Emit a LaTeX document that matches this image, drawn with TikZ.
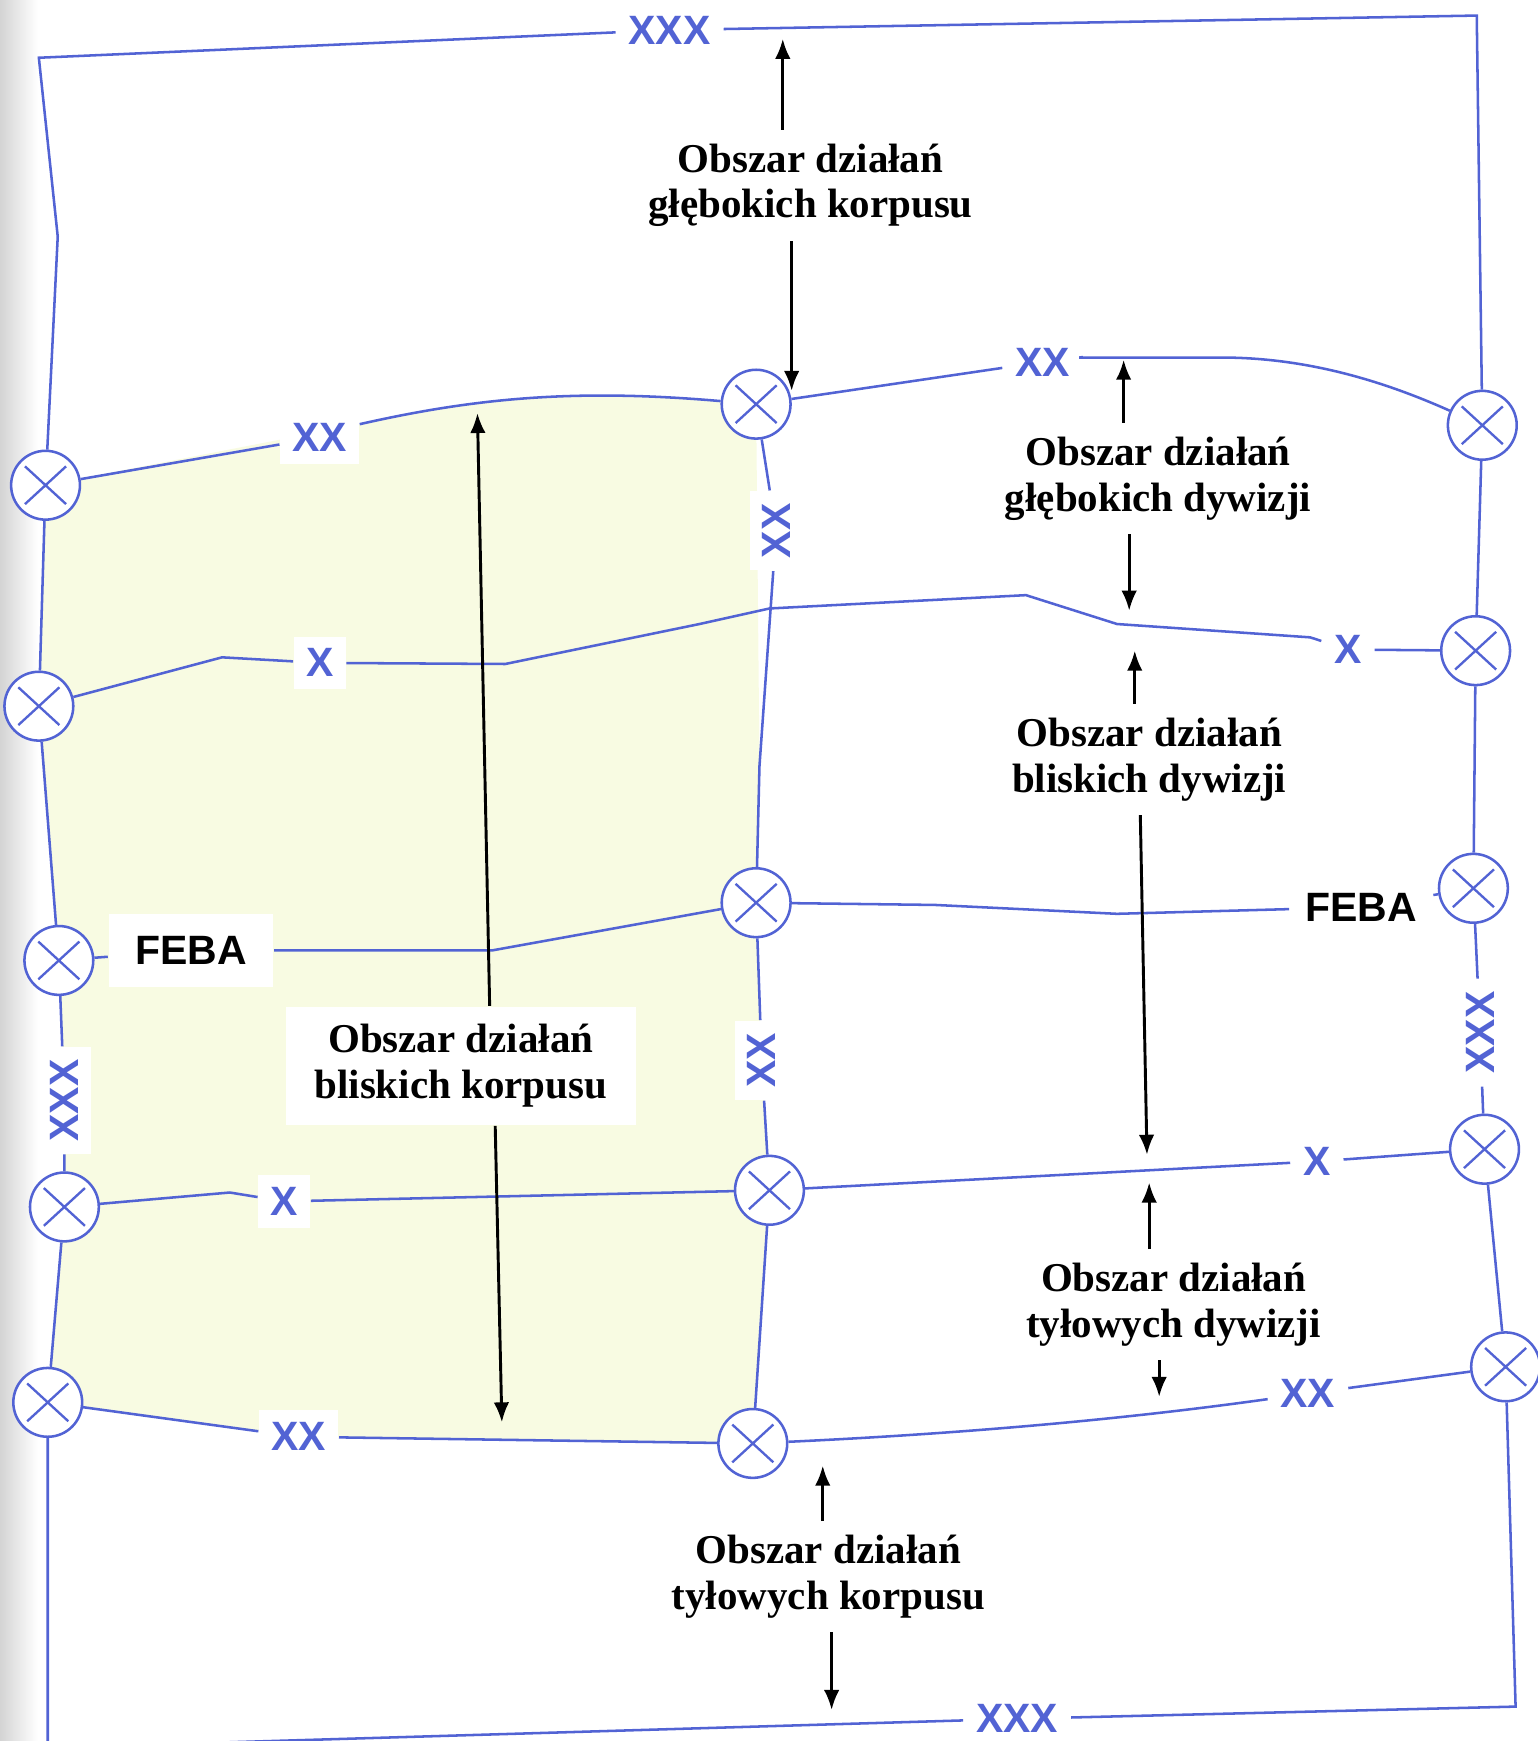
\documentclass[tikz,border=0pt]{standalone}
\usepackage{fontspec}
\setmainfont{Liberation Serif}
\newfontfamily\unitfont{Liberation Sans}
\usetikzlibrary{arrows.meta,backgrounds}
\definecolor{unitblue}{HTML}{5263D4}
\definecolor{corpsyellow}{HTML}{F8FBE2}

\begin{document}
\begin{tikzpicture}[
  x=0.1mm, y=-0.1mm, >=Latex,
  hq/.style={circle, draw=unitblue, fill=white, line width=0.65pt, minimum size=6.2mm, inner sep=0pt,
    path picture={\draw[unitblue, line width=0.6pt]
      ([shift={(-1.85mm,-1.7mm)}]path picture bounding box.center) -- ([shift={(1.85mm,1.7mm)}]path picture bounding box.center)
      ([shift={(-1.85mm,1.7mm)}]path picture bounding box.center) -- ([shift={(1.85mm,-1.7mm)}]path picture bounding box.center);}},
  unit/.style={fill=white, text=unitblue, font=\unitfont\bfseries\fontsize{10.5}{12}\selectfont, inner sep=1.1mm},
  vunit/.style={unit, rotate=90},
  feba/.style={fill=white, font=\unitfont\bfseries\fontsize{10.5}{12}\selectfont, inner xsep=1.4mm, inner ysep=2mm},
  area/.style={font=\bfseries\fontsize{10.5}{11.7}\selectfont, align=center, inner sep=1.2mm},
  bound/.style={draw=unitblue, line width=0.65pt},
  line/.style={draw, line width=0.75pt, -{Latex[length=1.8mm, width=1.4mm]}}
]
  \useasboundingbox (0,0) rectangle (1385,1568);

  % outer corners of the corps area
  \coordinate (tl) at (35,52);
  \coordinate (tr) at (1330,14);
  \coordinate (br) at (1365,1537);
  \coordinate (bl) at (43,1574);
  \coordinate (lk) at (52,213);

  % ==================== COMMAND POSTS ====================
  % left boundary
  \node[hq] (L1) at (41,437) {};
  \node[hq] (L2) at (35,636) {};
  \node[hq] (L3) at (53,865) {};
  \node[hq] (L4) at (58,1087) {};
  \node[hq] (L5) at (43,1263) {};
  % division boundary
  \node[hq] (M1) at (681,364) {};
  \node[hq] (M2) at (681,813) {};
  \node[hq] (M3) at (693,1072) {};
  \node[hq] (M4) at (678,1300) {};
  % right boundary
  \node[hq] (R1) at (1335,383) {};
  \node[hq] (R2) at (1329,586) {};
  \node[hq] (R3) at (1327,800) {};
  \node[hq] (R4) at (1337,1035) {};
  \node[hq] (R5) at (1356,1231) {};

  % ==================== BOUNDARY SYMBOLS ====================
  \node[unit] (xxxtop) at (603,27) {XXX};
  \node[unit] (xxxbot) at (916,1548) {XXX};
  \node[vunit] (xxxl) at (58,991) {XXX};
  \node[vunit] (xxxr) at (1333,930) {XXX};
  \node[vunit] (xxmu) at (699,478) {XX};
  \node[vunit] (xxml) at (686,955) {XX};
  \node[unit] (xxul) at (288,394) {XX};
  \node[unit] (xxur) at (939,326) {XX};
  \node[unit] (xxbl) at (269,1294) {XX};
  \node[unit] (xxbr) at (1178,1255) {XX};
  \node[unit] (xul) at (288,597) {X};
  \node[unit] (xur) at (1214,585) {X};
  \node[unit] (xll) at (256,1082) {X};
  \node[unit] (xlr) at (1186,1046) {X};
  \node[feba, inner xsep=2.4mm] (febal) at (172,856) {FEBA};
  \node[feba] (febar) at (1226,817) {FEBA};

  % ==================== BACKGROUND ====================
  \begin{scope}[on background layer]
    \shade[left color=black!17, right color=white] (0,0) rectangle (34,1568);
    \fill[corpsyellow] (L1.center) -- (324,382) .. controls (430,358) and (520,350) .. (M1.center)
      -- (684,690) -- (M2.center) -- (xxml.center) -- (M3.center) -- (M4.center)
      -- (xxbl.center) -- (L5.center) -- (L4.center) -- (xxxl.center) -- (L3.center)
      -- (L2.center) -- cycle;
  \end{scope}

  % ==================== BOUNDARIES ====================
  % corps boundary
  \draw[bound] (L1) -- (lk) -- (tl) -- (xxxtop);
  \draw[bound] (xxxtop) -- (tr) -- (R1);
  \draw[bound] (R1) -- (R2) -- (R3) -- (xxxr) -- (R4) -- (R5);
  \draw[bound] (R5) -- (br) -- (xxxbot) -- (bl) -- (L5);
  \draw[bound] (L1) -- (L2) -- (L3) -- (xxxl) -- (L4) -- (L5);

  % division boundary
  \draw[bound] (M1) -- (xxmu) -- (684,690) -- (M2);
  \draw[bound] (M2) -- (xxml) -- (M3) -- (M4);

  % deep corps line
  \draw[bound] (L1) -- (xxul);
  \draw[bound] (xxul) -- (324,382) .. controls (430,358) and (520,350) .. (M1);
  \draw[bound] (M1) -- (xxur);
  \draw[bound] (xxur) -- (972,322) -- (1100,322) .. controls (1180,322) and (1250,345) .. (R1);

  % deep division line
  \draw[bound] (L2) -- (200,592) -- (xul);
  \draw[bound] (xul) -- (455,598) -- (630,562) -- (693,548) -- (924,536) -- (1006,562) -- (1180,574) -- (xur);
  \draw[bound] (xur) -- (R2);

  % FEBA
  \draw[bound] (L3) -- (febal);
  \draw[bound] (febal) -- (443,856) -- (M2);
  \draw[bound] (M2) -- (842,815) -- (1006,823) -- (febar);
  \draw[bound] (febar) -- (R3);

  % rear division line
  \draw[bound] (L4) -- (207,1074) -- (xll);
  \draw[bound] (xll) -- (M3);
  \draw[bound] (M3) -- (xlr);
  \draw[bound] (xlr) -- (R4);

  % rear corps line
  \draw[bound] (L5) -- (xxbl);
  \draw[bound] (xxbl) -- (M4);
  \draw[bound] (M4) .. controls (850,1292) and (1000,1280) .. (xxbr);
  \draw[bound] (xxbr) -- (R5);

  % ==================== AREAS ====================
  \node[area] (deepcorps) at (730,167) {Obszar działań\\głębokich korpusu};
  \node[area, fill=white, inner xsep=2.6mm, inner ysep=1.6mm] (closecorps) at (415,960) {Obszar działań\\bliskich korpusu};
  \node[area] (deepdiv) at (1043,431) {Obszar działań\\głębokich dywizji};
  \node[area] (closediv) at (1035,684) {Obszar działań\\bliskich dywizji};
  \node[area] (reardiv) at (1057,1175) {Obszar działań\\tyłowych dywizji};
  \node[area] (rearcorps) at (746,1420) {Obszar działań\\tyłowych korpusu};

  \coordinate (dcu) at (705,35);
  \coordinate (dcd) at (713,352);
  \coordinate (ccu) at (430,372);
  \coordinate (ccd) at (452,1281);
  \coordinate (ddu) at (1012,324);
  \coordinate (ddd) at (1017,550);
  \coordinate (cdu) at (1022,586);
  \coordinate (cdd) at (1033,1040);
  \coordinate (rdu) at (1035,1065);
  \coordinate (rdd) at (1044,1258);
  \coordinate (rcu) at (741,1320);
  \coordinate (rcd) at (749,1540);

  \draw[line] ([xshift=2.6mm]closecorps.north) -- (ccu);
  \draw[line] ([xshift=3.1mm]closecorps.south) -- (ccd);
  \draw[line] (deepcorps.north -| dcu) -- (dcu);
  \draw[line] (deepcorps.south -| dcd) -- (dcd);
  \draw[line] (deepdiv.north -| ddu) -- (ddu);
  \draw[line] (deepdiv.south -| ddd) -- (ddd);
  \draw[line] (closediv.north -| cdu) -- (cdu);
  \draw[line] ([xshift=-0.8mm]closediv.south) -- (cdd);
  \draw[line] (reardiv.north -| rdu) -- (rdu);
  \draw[line] (reardiv.south -| rdd) -- (rdd);
  \draw[line] (rearcorps.north -| rcu) -- (rcu);
  \draw[line] (rearcorps.south -| rcd) -- (rcd);

\end{tikzpicture}
\end{document}
